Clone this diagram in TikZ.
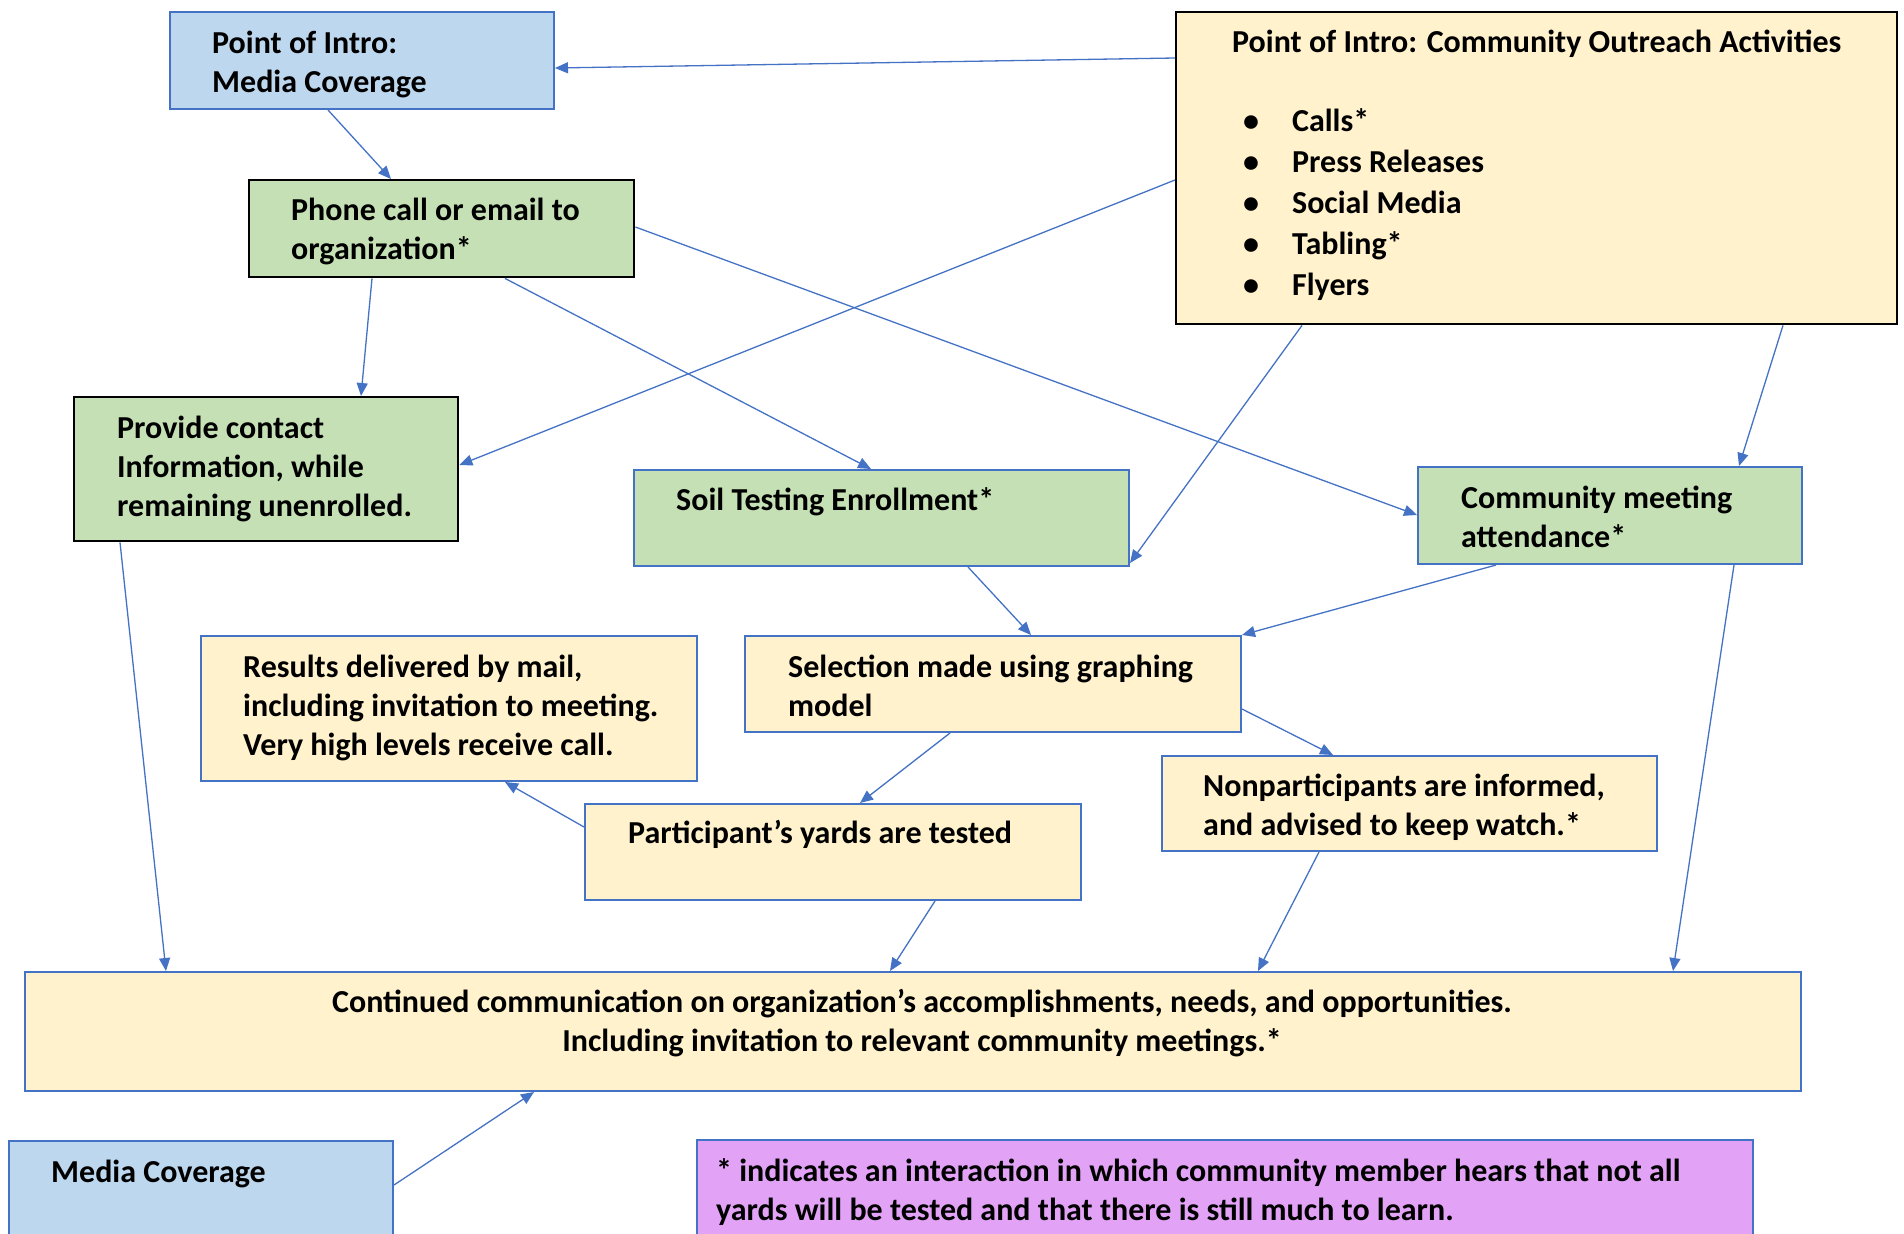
\documentclass[tikz,border=0pt]{standalone}
\usepackage{fontspec}
\setmainfont{Carlito}
\usetikzlibrary{arrows.meta}
\definecolor{cblue}{HTML}{BDD7EE}
\definecolor{cgreen}{HTML}{C5E0B4}
\definecolor{cyellow}{HTML}{FFF2CC}
\definecolor{cpurple}{HTML}{E2A2F5}
\definecolor{cborder}{HTML}{4472C4}
\definecolor{cline}{HTML}{4472C4}
\newcommand{\lns}[1]{\begin{tabular}[t]{@{}l@{}}#1\end{tabular}}
\newcommand{\clns}[1]{\begin{tabular}[t]{@{}c@{}}#1\end{tabular}}
\tikzset{
  box/.style={rectangle, inner sep=0pt, line width=2pt, anchor=north west},
  bluebox/.style={box, fill=cblue, draw=cborder},
  greenbox/.style={box, fill=cgreen, draw=cborder},
  greenblk/.style={box, fill=cgreen, draw=black, line width=2.4pt},
  yellowbox/.style={box, fill=cyellow, draw=cborder},
  yellowblk/.style={box, fill=cyellow, draw=black, line width=2.4pt},
  purplebox/.style={box, fill=cpurple, draw=cborder},
  txt/.style={inner sep=0pt, anchor=base west, font=\fontsize{32}{39}\selectfont\bfseries},
  conn/.style={draw=cline, line width=1.3pt, -{Triangle[length=13pt,width=11pt]}}
}
\begin{document}
\begin{tikzpicture}[x=1pt,y=-1pt]
\useasboundingbox (0,0) rectangle (1904,1234);
\fill[white] (0,0) rectangle (1904,1234);
\clip (0,0) rectangle (1904,1234);

% boxes
\node[bluebox, minimum width=384pt, minimum height=97pt] (media) at (169,11) {};
\node[greenblk, minimum width=385pt, minimum height=97pt] (phone) at (248,179) {};
\node[yellowblk, minimum width=721pt, minimum height=312pt] (outreach) at (1175,11) {};
\node[greenblk, minimum width=384pt, minimum height=144pt] (provide) at (73,396) {};
\node[greenbox, minimum width=495pt, minimum height=96pt] (soil) at (633,469) {};
\node[greenbox, minimum width=384pt, minimum height=97pt] (community) at (1417,466) {};
\node[yellowbox, minimum width=496pt, minimum height=145pt] (results) at (200,635) {};
\node[yellowbox, minimum width=496pt, minimum height=96pt] (selection) at (744,635) {};
\node[yellowbox, minimum width=496pt, minimum height=96pt] (participant) at (584,803) {};
\node[yellowbox, minimum width=495pt, minimum height=95pt] (nonpart) at (1161,755) {};
\node[yellowbox, minimum width=1776pt, minimum height=119pt] (continued) at (24,971) {};
\node[bluebox, minimum width=384pt, minimum height=140pt] (mediab) at (8,1140) {};
\node[purplebox, minimum width=1056pt, minimum height=140pt] (note) at (696,1139) {};

% texts
\node[txt] (tmedia) at (212,53) {\lns{Point of Intro:\\Media Coverage}};
\node[txt] (tphone) at (291,220) {\lns{Phone call or email to\\organization*}};
\node[txt] (ttitle) at (1232,52) {Point of Intro: Community Outreach Activities};
\node[txt, font=\fontsize{32}{41}\selectfont\bfseries] (tbul) at (1243,131)
  {\begin{tabular}[t]{@{}l@{\hspace{33pt}}l@{}}\textbullet & Calls*\\ \textbullet & Press Releases\\ \textbullet & Social Media\\ \textbullet & Tabling*\\ \textbullet & Flyers\end{tabular}};
\node[txt] (tprovide) at (117,438) {\lns{Provide contact\\Information, while\\remaining unenrolled.}};
\node[txt] (tsoil) at (676,510) {Soil Testing Enrollment*};
\node[txt] (tcommunity) at (1461,508) {\lns{Community meeting\\attendance*}};
\node[txt] (tresults) at (243,677) {\lns{Results delivered by mail,\\including invitation to meeting.\\Very high levels receive call.}};
\node[txt] (tselection) at (788,677) {\lns{Selection made using graphing\\model}};
\node[txt] (tparticipant) at (628,843) {Participant’s yards are tested};
\node[txt] (tnonpart) at (1203,796) {\lns{Nonparticipants are informed,\\and advised to keep watch.*}};
\node[txt, anchor=base] (tcontinued) at (922,1012) {\clns{Continued communication on organization’s accomplishments, needs, and opportunities.\\Including invitation to relevant community meetings.*}};
\node[txt] (tmediab) at (51,1182) {Media Coverage};
\node[txt] (tnote) at (716,1181) {\lns{* indicates an interaction in which community member hears that not all\\yards will be tested and that there is still much to learn.}};

% connectors
\draw[conn] ([yshift=-47pt]outreach.north west) -- ([yshift=-57pt]media.north east);
\draw[conn] ([xshift=159pt]media.south west) -- ([xshift=143pt]phone.north west);
\draw[conn] ([yshift=-169pt]outreach.north west) -- ([yshift=-69pt]provide.north east);
\draw[conn] ([xshift=124pt]phone.south west) -- ([xshift=288pt]provide.north west);
\draw[conn] ([xshift=257pt]phone.south west) -- ([xshift=238pt]soil.north west);
\draw[conn] ([yshift=-48pt]phone.north east) -- ([yshift=-49pt]community.north west);
\draw[conn] ([xshift=127pt]outreach.south west) -- ([yshift=4pt]soil.south east);
\draw[conn] ([xshift=608pt]outreach.south west) -- ([xshift=322pt]community.north west);
\draw[conn] ([xshift=335pt]soil.south west) -- ([xshift=287pt]selection.north west);
\draw[conn] ([xshift=79pt]community.south west) -- (selection.north east);
\draw[conn] ([xshift=206pt]selection.south west) -- ([xshift=276pt]participant.north west);
\draw[conn] ([yshift=-74pt]selection.north east) -- ([xshift=172pt]nonpart.north west);
\draw[conn] ([yshift=-24pt]participant.north west) -- ([xshift=305pt]results.south west);
\draw[conn] ([xshift=351pt]participant.south west) -- ([xshift=866pt]continued.north west);
\draw[conn] ([xshift=158pt]nonpart.south west) -- ([xshift=1234pt]continued.north west);
\draw[conn] ([xshift=47pt]provide.south west) -- ([xshift=142pt]continued.north west);
\draw[conn] ([xshift=317pt]community.south west) -- ([xshift=1649pt]continued.north west);
\draw[conn] ([yshift=-45pt]mediab.north east) -- ([xshift=510pt]continued.south west);
\end{tikzpicture}
\end{document}
